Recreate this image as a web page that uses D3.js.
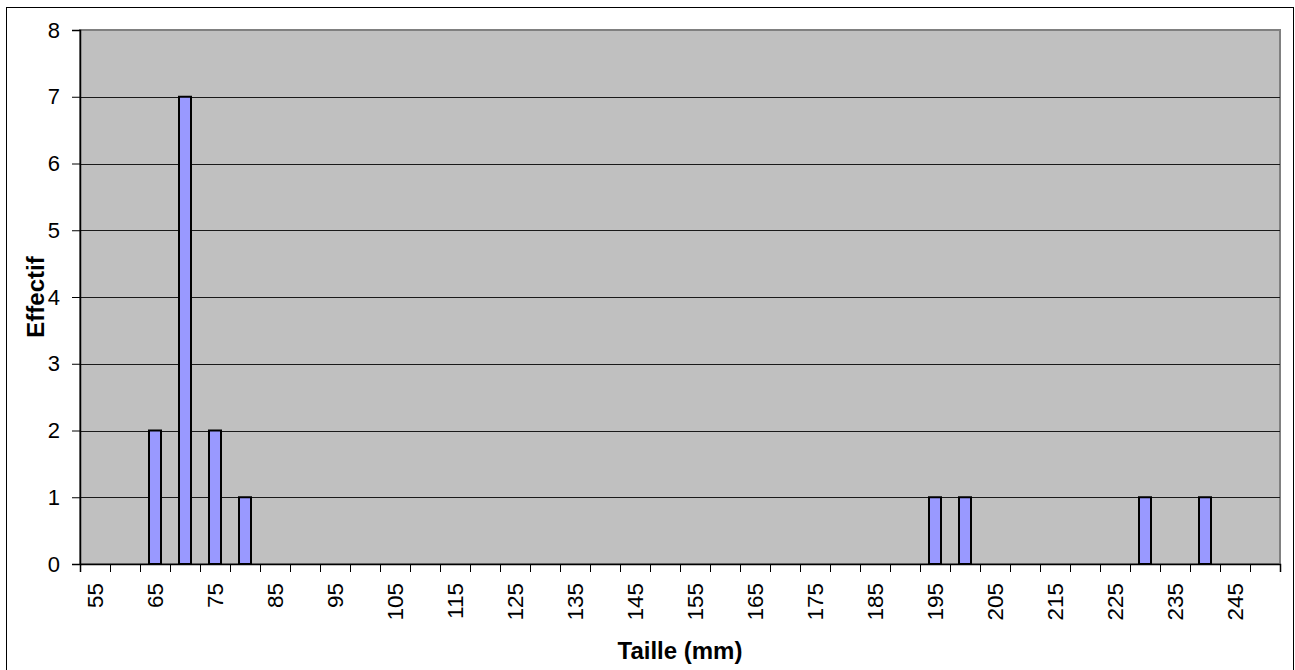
<!DOCTYPE html>
<html>
<head>
<meta charset="utf-8">
<script src="https://cdn.jsdelivr.net/npm/d3@7"></script>
<style>
  html, body { margin: 0; padding: 0; background: #fff; }
  svg { display: block; font-family: Arial, "Liberation Sans", sans-serif; }
</style>
</head>
<body>
<svg id="chart" width="1295" height="670"></svg>
<script>
// ---- data ----
const categories = [55, 60, 65, 70, 75, 80, 85, 90, 95, 100,
                    105, 110, 115, 120, 125, 130, 135, 140, 145, 150,
                    155, 160, 165, 170, 175, 180, 185, 190, 195, 200,
                    205, 210, 215, 220, 225, 230, 235, 240, 245, 250];
const effectif =   [0, 0, 2, 7, 2, 1, 0, 0, 0, 0,
                    0, 0, 0, 0, 0, 0, 0, 0, 0, 0,
                    0, 0, 0, 0, 0, 0, 0, 0, 1, 1,
                    0, 0, 0, 0, 0, 1, 0, 1, 0, 0];
const xLabels = ["55", "65", "75", "85", "95", "105", "115", "125", "135", "145",
                 "155", "165", "175", "185", "195", "205", "215", "225", "235", "245"];
const yTicks = [0, 1, 2, 3, 4, 5, 6, 7, 8];
const xTitle = "Taille (mm)";
const yTitle = "Effectif";

// ---- layout ----
const svg = d3.select("#chart");
const plot = { left: 80, top: 30, right: 1280, bottom: 564 };

const x = d3.scaleBand()
  .domain(categories.map(String))
  .range([plot.left, plot.right])
  .paddingInner(0).paddingOuter(0);
const xEdge = d3.scaleLinear().domain([0, categories.length]).range([plot.left, plot.right]);
const y = d3.scaleLinear().domain([0, 8]).range([plot.bottom, plot.top]);

// outer frame
svg.append("rect")
  .attr("x", 6.5).attr("y", 7.5)
  .attr("width", 1287).attr("height", 680)
  .attr("fill", "#fff").attr("stroke", "#000").attr("stroke-width", 1);

// plot area
svg.append("rect")
  .attr("x", plot.left).attr("y", plot.top)
  .attr("width", plot.right - plot.left).attr("height", plot.bottom - plot.top)
  .attr("fill", "#C0C0C0").attr("stroke", "#808080").attr("stroke-width", 2);

// gridlines
svg.append("g").selectAll("line")
  .data(yTicks.filter(d => d > 0 && d < 8))
  .join("line")
  .attr("x1", plot.left).attr("x2", plot.right)
  .attr("y1", d => Math.round(y(d)) + 0.5).attr("y2", d => Math.round(y(d)) + 0.5)
  .attr("stroke", "#1a1a1a").attr("stroke-width", 1);

// bars
const barW = x.bandwidth() / 2.5;
svg.append("g").selectAll("rect")
  .data(categories.map((c, i) => ({ c: String(c), v: effectif[i] })).filter(d => d.v > 0))
  .join("rect")
  .attr("x", d => x(d.c) + (x.bandwidth() - barW) / 2)
  .attr("y", d => y(d.v))
  .attr("width", barW)
  .attr("height", d => y(0) - y(d.v))
  .attr("fill", "#9999FF")
  .attr("stroke", "#000")
  .attr("stroke-width", 2);

// y axis
const yAxis = svg.append("g")
  .attr("transform", `translate(${plot.left},0)`)
  .call(d3.axisLeft(y).tickValues(yTicks).tickSize(8).tickPadding(12).tickFormat(d3.format("d")));
yAxis.select(".domain").attr("stroke", "#000").attr("stroke-width", 1.5);
yAxis.selectAll(".tick line").attr("stroke", "#000");
yAxis.selectAll(".tick text").attr("font-size", 22).attr("fill", "#000")
  .attr("font-family", "Arial, 'Liberation Sans', sans-serif");

// x axis: tick marks at category boundaries
const xTickAxis = svg.append("g")
  .attr("transform", `translate(0,${plot.bottom})`)
  .call(d3.axisBottom(xEdge).tickValues(d3.range(0, categories.length + 1)).tickSize(8).tickFormat(""));
xTickAxis.select(".domain").attr("stroke", "#000").attr("stroke-width", 1.5);
xTickAxis.selectAll(".tick line").attr("stroke", "#000");

// x axis labels (every other category)
const labelSet = new Set(xLabels);
const xLabAxis = svg.append("g")
  .attr("transform", `translate(0,${plot.bottom})`)
  .call(d3.axisBottom(x).tickSize(0).tickFormat(d => labelSet.has(d) ? d : ""));
xLabAxis.select(".domain").remove();
xLabAxis.selectAll(".tick text")
  .attr("font-size", 22.5)
  .attr("font-family", "Arial, 'Liberation Sans', sans-serif")
  .attr("fill", "#000")
  .attr("transform", "rotate(-90)")
  .attr("text-anchor", "end")
  .attr("x", -19)
  .attr("y", 0)
  .attr("dy", "0.35em");

// axis titles
svg.append("text")
  .attr("x", (plot.left + plot.right) / 2)
  .attr("y", 659)
  .attr("text-anchor", "middle")
  .attr("font-size", 24).attr("font-weight", "bold")
  .text(xTitle);

svg.append("text")
  .attr("transform", `translate(44,${(plot.top + plot.bottom) / 2}) rotate(-90)`)
  .attr("text-anchor", "middle")
  .attr("font-size", 24).attr("font-weight", "bold")
  .text(yTitle);
</script>
</body>
</html>
